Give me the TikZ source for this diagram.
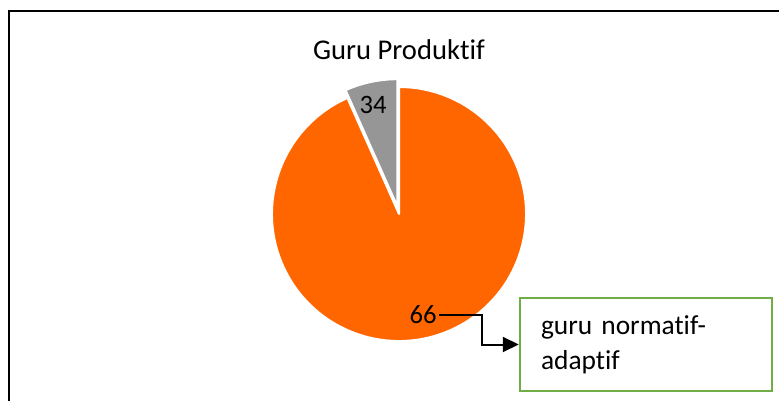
\documentclass[tikz,border=0pt]{standalone}
\usepackage{fontspec}
\setmainfont{Carlito}
\usetikzlibrary{arrows.meta}
\definecolor{pieorange}{HTML}{FF6600}
\definecolor{piegray}{HTML}{969696}
\definecolor{boxgreen}{HTML}{70AD47}
% keeps Carlito from joining t and i
\newcommand{\nolig}{\kern0pt}
\tikzset{slice/.style={draw=white, line width=1pt, line join=round},
         datalabel/.style={font=\fontsize{13.3}{16}\selectfont, inner sep=1pt},
         legendbox/.style={draw=boxgreen, line width=1.25pt, align=left,
                           text width=105pt, inner xsep=10.5pt,
                           minimum width=126pt, minimum height=46.5pt,
                           font=\fontsize{13.7}{17.5}\selectfont}}

\begin{document}
\begin{tikzpicture}[x=0.5pt, y=0.5pt]
                \useasboundingbox (0,0) rectangle (779,401);
                % chart frame, cut off on the right and at the bottom
                \draw[line width=1pt] (9,0) -- (9,390) -- (779,390);
                \node (title) at (399,351) {\fontsize{14.3}{17}\selectfont Guru Produkt\nolig if};
                % the two slices
                \coordinate (c) at (399,187);
                \fill[pieorange, slice] (c) -- ++(114:127) arc[start angle=114, end angle=450, radius=127] -- cycle;
                \fill[piegray, slice] ([shift={(-1.7,7.8)}]c) -- ++(90:127) arc[start angle=90, end angle=114, radius=127] -- cycle;
                \node[datalabel] (lab34) at (373,296) {34};
                \node[datalabel] (lab66) at (423,86) {66};
                \node[legendbox] (box) at (646,56.5) {guru normat\nolig if-\\adapt\nolig if};
                \draw[line width=1pt, -{Triangle[length=8pt, width=7.5pt]}] (lab66.east) -- ++(43,0) |- (box.west);
              \end{tikzpicture}
\end{document}
